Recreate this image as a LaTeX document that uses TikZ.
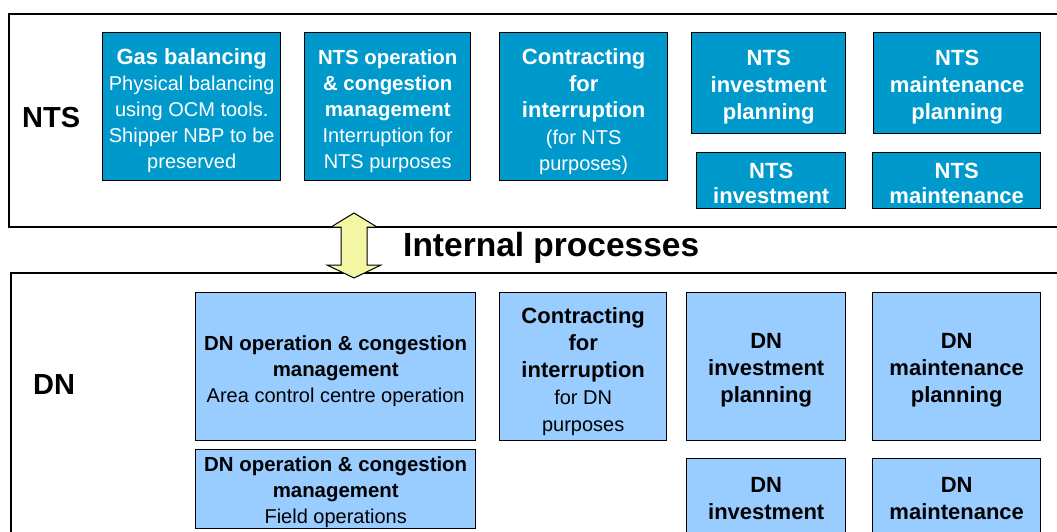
\documentclass[tikz,border=0pt]{standalone}
\usepackage{fontspec}
\setmainfont{Liberation Sans}
\definecolor{ntsblue}{RGB}{0,153,204}
\definecolor{dnblue}{RGB}{153,204,255}
\definecolor{arrowyellow}{RGB}{243,246,163}
\newcommand{\hd}[1]{{\fontsize{22}{26}\selectfont\bfseries #1}}
\newcommand{\hdn}[1]{{\fontsize{20.4}{26}\selectfont\bfseries #1}}
\begin{document}
\begin{tikzpicture}[x=1pt,y=-1pt,
  frame/.style={draw=black, line width=2.4pt, anchor=north west, inner sep=0pt},
  procbox/.style={draw=black, line width=1.4pt, inner sep=0pt, anchor=north west},
  ntsbox/.style={procbox, fill=ntsblue},
  dnbox/.style={procbox, fill=dnblue},
  proctext/.style={align=center, inner sep=0pt, font=\fontsize{20}{26}\selectfont},
  ntstext/.style={proctext, text=white},
  dntext/.style={proctext, text=black},
  bigtext/.style={font=\fontsize{22}{27}\selectfont\bfseries},
  region/.style={font=\fontsize{29}{34}\selectfont\bfseries, inner sep=0pt, anchor=base west},
  twoway/.style={draw=black, line width=1pt, fill=arrowyellow, line join=miter},
]
\useasboundingbox (0,0) rectangle (1057,531);
\clip (0,0) rectangle (1057,531);

% the two network frames
\node[frame, minimum width=1080pt, minimum height=213pt] (ntsframe) at (8,13) {};
\node[frame, minimum width=1080pt, minimum height=300pt] (dnframe) at (10,272) {};

\node[region] (ntslabel) at (22,127) {NTS};
\node[region] (dnlabel) at (33,394) {DN};

% NTS process boxes
\node[ntsbox, minimum width=178pt, minimum height=148pt] (gas) at (102,32) {};
\node[ntsbox, minimum width=166pt, minimum height=148pt] (ntsop) at (304,32) {};
\node[ntsbox, minimum width=168pt, minimum height=148pt] (ntscontract) at (499,32) {};
\node[ntsbox, minimum width=154pt, minimum height=101pt] (ntsinvplan) at (691,32) {};
\node[ntsbox, minimum width=167pt, minimum height=101pt] (ntsmaintplan) at (873,32) {};
\node[ntsbox, minimum width=149pt, minimum height=56pt] (ntsinv) at (696,152) {};
\node[ntsbox, minimum width=168pt, minimum height=56pt] (ntsmaint) at (872,152) {};

% NTS process texts
\node[ntstext] (gastext) at ([yshift=-4pt]gas.center)
  {\hd{Gas balancing}\\Physical balancing\\using OCM tools.\\Shipper NBP to be\\preserved};
\node[ntstext] (ntsoptext) at ([yshift=-4pt]ntsop.center)
  {\hdn{NTS operation}\\\hdn{\& congestion}\\\hdn{management}\\Interruption for\\NTS purposes};
\node[ntstext, font=\fontsize{20}{26.5}\selectfont] (ntscontracttext) at ([yshift=-5pt]ntscontract.center)
  {\hd{Contracting}\\\hd{for}\\\hd{interruption}\\(for NTS\\purposes)};
\node[ntstext, bigtext] (ntsinvplantext) at ([yshift=-4pt]ntsinvplan.center)
  {NTS\\investment\\planning};
\node[ntstext, bigtext] (ntsmaintplantext) at ([yshift=-4pt]ntsmaintplan.center)
  {NTS\\maintenance\\planning};
\node[ntstext, bigtext, font=\fontsize{22}{25}\selectfont\bfseries] (ntsinvtext) at ([yshift=-3pt]ntsinv.center)
  {NTS\\investment};
\node[ntstext, bigtext, font=\fontsize{22}{25}\selectfont\bfseries] (ntsmainttext) at ([yshift=-3pt]ntsmaint.center)
  {NTS\\maintenance};

% link between the two networks
\draw[twoway] (354,213) -- (377,227) -- (367,227) -- (367,265) -- (381,265)
  -- (354,278) -- (327,265) -- (341,265) -- (341,227) -- (331,227) -- cycle;
\node[font=\fontsize{33.5}{38}\selectfont\bfseries, inner sep=0pt, anchor=base west] (internal) at (403,256) {Internal processes};

% DN process boxes
\node[dnbox, minimum width=280pt, minimum height=148pt] (dnacc) at (195,292) {};
\node[dnbox, minimum width=280pt, minimum height=79pt] (dnfield) at (195,449) {};
\node[dnbox, minimum width=167pt, minimum height=148pt] (dncontract) at (499,292) {};
\node[dnbox, minimum width=159pt, minimum height=148pt] (dninvplan) at (686,292) {};
\node[dnbox, minimum width=168pt, minimum height=148pt] (dnmaintplan) at (872,292) {};
\node[dnbox, minimum width=159pt, minimum height=80pt] (dninv) at (686,458) {};
\node[dnbox, minimum width=168pt, minimum height=80pt] (dnmaint) at (872,458) {};

% DN process texts
\node[dntext] (dnacctext) at ([yshift=-4pt]dnacc.center)
  {\hdn{DN operation \& congestion}\\\hdn{management}\\Area control centre operation};
\node[dntext] (dnfieldtext) at ([yshift=-3pt]dnfield.center)
  {\hdn{DN operation \& congestion}\\\hdn{management}\\Field operations};
\node[dntext, font=\fontsize{20}{27}\selectfont] (dncontracttext) at ([yshift=-5pt]dncontract.center)
  {\hd{Contracting}\\\hd{for}\\\hd{interruption}\\for DN\\purposes};
\node[dntext, bigtext] (dninvplantext) at ([yshift=-4pt]dninvplan.center)
  {DN\\investment\\planning};
\node[dntext, bigtext] (dnmaintplantext) at ([yshift=-4pt]dnmaintplan.center)
  {DN\\maintenance\\planning};
\node[dntext, bigtext] (dninvtext) at ([yshift=0pt]dninv.center)
  {DN\\investment};
\node[dntext, bigtext] (dnmainttext) at ([yshift=0pt]dnmaint.center)
  {DN\\maintenance};
\end{tikzpicture}
\end{document}
